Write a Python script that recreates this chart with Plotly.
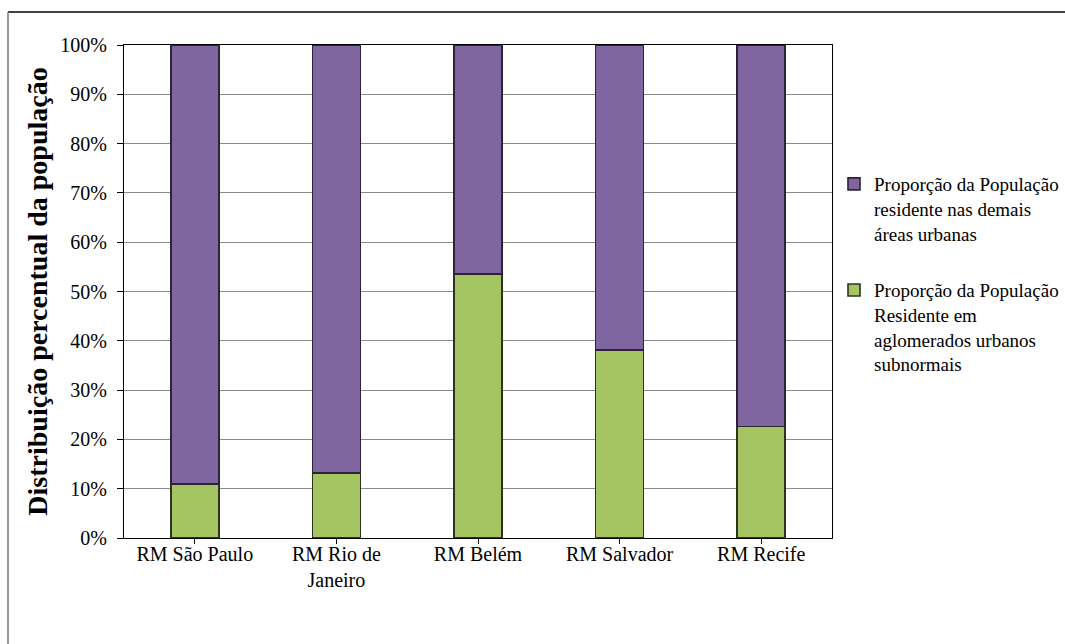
import plotly.graph_objects as go

# Regiões metropolitanas
categorias = ["RM São Paulo", "RM Rio de<br>Janeiro", "RM Belém", "RM Salvador", "RM Recife"]

# Proporção (%) da população residente em aglomerados subnormais
subnormais = [11.0, 13.2, 53.6, 38.1, 22.6]
# Proporção (%) residente nas demais áreas urbanas
demais = [round(100 - v, 1) for v in subnormais]

nome_subnormais = ("Proporção da População<br>Residente em<br>"
                   "aglomerados urbanos<br>subnormais")
nome_demais = ("Proporção da População<br>residente nas demais<br>"
               "áreas urbanas")

y_ticks = [0, 10, 20, 30, 40, 50, 60, 70, 80, 90, 100]
y_tick_labels = [f"{v}%" for v in y_ticks]

VERDE = "#A5C462"
ROXO = "#8066A1"
FONTE = "Liberation Serif"

fig = go.Figure()
fig.add_trace(go.Bar(
    x=categorias, y=subnormais, name=nome_subnormais,
    marker=dict(color=VERDE, line=dict(color="#2e3320", width=1.6)),
    width=0.34, legendgroup="b", legendrank=2,
))
fig.add_trace(go.Bar(
    x=categorias, y=demais, name=nome_demais,
    marker=dict(color=ROXO, line=dict(color="#2c2436", width=1.6)),
    width=0.34, legendgroup="a", legendrank=1,
))

W, H = 1065, 644
L, R, T, B = 124, 233, 45, 106
pw, ph = W - L - R, H - T - B

def px_x(px):
    return (px - L) / pw

def px_y(py):
    return (H - B - py) / ph

fig.update_layout(
    width=W, height=H,
    margin=dict(l=L, r=R, t=T, b=B, autoexpand=False),
    barmode="stack",
    plot_bgcolor="white", paper_bgcolor="white",
    font=dict(family=FONTE, size=20, color="black"),
    showlegend=True,
    legend=dict(
        x=px_x(834), xanchor="left",
        y=px_y(165), yanchor="top",
        traceorder="grouped",
        tracegroupgap=29,
        valign="top",
        font=dict(family=FONTE, size=19, color="black"),
        bgcolor="rgba(0,0,0,0)",
        itemwidth=30,
    ),
    xaxis=dict(
        showline=True, linecolor="black", linewidth=1.3, mirror=True,
        ticks="outside", ticklen=5, tickcolor="black",
        tickfont=dict(family=FONTE, size=20, color="black"),
        ticklabelstandoff=-7,
        showgrid=False,
    ),
    yaxis=dict(
        range=[0, 100],
        tickvals=y_ticks, ticktext=y_tick_labels,
        showline=True, linecolor="black", linewidth=1.3, mirror=True,
        ticks="outside", ticklen=6, tickcolor="black",
        tickfont=dict(family=FONTE, size=20, color="black"),
        ticklabelstandoff=6,
        showgrid=True, gridcolor="#8a8a8a", gridwidth=1,
        title=dict(text="<b>Distribuição percentual da população</b>",
                   font=dict(family=FONTE, size=28, color="black"), standoff=4),
    ),
    shapes=[
        dict(type="line", xref="paper", yref="paper",
             x0=px_x(8), x1=px_x(W), y0=px_y(12), y1=px_y(12),
             line=dict(color="black", width=1.5)),
        dict(type="line", xref="paper", yref="paper",
             x0=px_x(8), x1=px_x(8), y0=px_y(12), y1=px_y(H),
             line=dict(color="#777777", width=1.5)),
    ],
)

fig.write_html("out.html")
